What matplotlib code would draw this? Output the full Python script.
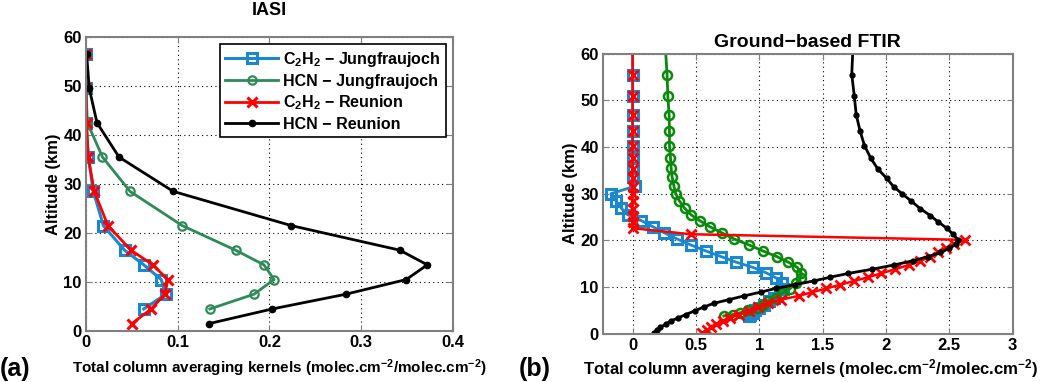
import numpy as np
import matplotlib.pyplot as plt

plt.rcParams['font.family'] = ['Liberation Sans', 'DejaVu Sans']
plt.rcParams['font.weight'] = 'bold'
plt.rcParams['mathtext.fontset'] = 'custom'
plt.rcParams['mathtext.rm'] = 'Liberation Sans:bold'
plt.rcParams['mathtext.bf'] = 'Liberation Sans:bold'
plt.rcParams['mathtext.default'] = 'bf'

# --- IASI (panel a) ---
iasi_alt = [1.5, 4.5, 7.5, 10.5, 13.5, 16.5, 21.5, 28.5, 35.5, 42.5, 49.5, 56.5]
iasi_c2h2_jfj = [np.nan, 0.063, 0.087, 0.082, 0.063, 0.042, 0.019, 0.008, 0.0025, 0.0, 0.0, 0.0]
iasi_hcn_jfj = [np.nan, 0.135, 0.183, 0.205, 0.194, 0.163, 0.105, 0.048, 0.018, 0.0015, 0.0, 0.0]
iasi_c2h2_reu = [0.050, 0.071, 0.086, 0.089, 0.073, 0.049, 0.024, 0.009, 0.0025, 0.0007, 0.0, 0.0]
iasi_hcn_reu = [0.134, 0.203, 0.283, 0.349, 0.372, 0.342, 0.224, 0.095, 0.036, 0.012, 0.0036, 0.0007]

# --- Ground-based FTIR (panel b) ---
jfj_alt = [3.8, 4.1, 4.5, 5.0, 5.5, 6.2, 6.9, 7.7, 8.7, 9.6, 10.8, 12.0, 13.1, 14.2,
           15.3, 16.5, 17.7, 19.0, 20.3, 21.6, 22.9, 24.2, 25.5, 26.9, 28.4, 30.0,
           31.6, 33.5, 35.5, 37.7, 40.3, 43.4, 46.8, 50.9, 55.4, 65.0]
ftir_hcn_jfj = [0.72, 0.79, 0.85, 0.91, 0.98, 1.03, 1.07, 1.13, 1.18, 1.24, 1.29, 1.33,
                1.33, 1.30, 1.23, 1.14, 1.03, 0.92, 0.80, 0.705, 0.61, 0.53, 0.46, 0.41,
                0.37, 0.34, 0.326, 0.312, 0.304, 0.299, 0.291, 0.291, 0.288, 0.278, 0.272, 0.25]
ftir_c2h2_jfj = [0.92, 0.93, 0.95, 0.97, 1.00, 1.04, 1.08, 1.12, 1.16, 1.19, 1.18, 1.13,
                 1.05, 0.95, 0.82, 0.70, 0.58, 0.46, 0.35, 0.25, 0.16, 0.07, -0.04, -0.09,
                 -0.13, -0.17, 0.02, 0.0, 0.0, 0.0, 0.0, 0.0, 0.0, 0.0, 0.0, 0.0]

reu_alt = [0.2, 0.8, 1.4, 2.0, 2.7, 3.4, 4.1, 4.9, 5.7, 6.5, 7.3, 8.1, 8.9, 9.7, 10.5,
           11.3, 12.1, 12.9, 13.8, 14.7, 15.6, 16.5, 17.4, 18.3, 19.2, 20.1, 21.3,
           22.6, 24.0, 25.3, 26.8, 28.4, 29.9, 31.5, 33.3, 35.3, 37.6, 40.3, 43.5,
           46.9, 50.9, 55.5, 65.0]
ftir_c2h2_reu = [0.55, 0.585, 0.62, 0.66, 0.71, 0.77, 0.84, 0.92, 0.99, 1.07, 1.17, 1.31,
                 1.42, 1.53, 1.64, 1.75, 1.86, 1.96, 2.07, 2.18, 2.27, 2.35, 2.41, 2.47,
                 2.54, 2.62, 0.46, 0.0, 0.0, 0.0, 0.0, 0.0, 0.0, 0.0, 0.0, 0.0, 0.0,
                 0.0, 0.0, 0.0, 0.0, 0.0, 0.0]
ftir_hcn_reu = [0.17, 0.19, 0.22, 0.26, 0.30, 0.36, 0.42, 0.49, 0.56, 0.64, 0.76, 0.88,
                1.01, 1.13, 1.28, 1.43, 1.56, 1.70, 1.89, 2.06, 2.21, 2.33, 2.43, 2.50,
                2.55, 2.57, 2.53, 2.48, 2.41, 2.35, 2.27, 2.20, 2.13, 2.06, 2.005, 1.935,
                1.88, 1.83, 1.795, 1.765, 1.75, 1.73, 1.745]

iasi_xticks = [0, 0.1, 0.2, 0.3, 0.4]
iasi_xticklabels = ['0', '0.1', '0.2', '0.3', '0.4']
ftir_xticks = [0, 0.5, 1, 1.5, 2, 2.5, 3]
ftir_xticklabels = ['0', '0.5', '1', '1.5', '2', '2.5', '3']
alt_ticks = [0, 10, 20, 30, 40, 50, 60]

BLUE = '#1b87cf'
GREEN_A = '#2e8b57'
GREEN_B = '#0a8a0a'
RED = '#ff0000'

XLABEL = 'Total column averaging kernels (molec.cm$^{-2}$/molec.cm$^{-2}$)'


def style_axes(ax, xticks, xlabels):
    ax.set_ylim(0, 60)
    ax.set_xticks(xticks)
    ax.set_xticklabels(xlabels, fontsize=12, fontweight='bold')
    ax.set_yticks(alt_ticks)
    ax.set_yticklabels([str(t) for t in alt_ticks], fontsize=12, fontweight='bold')
    ax.grid(True, linestyle=(0, (1, 3)), color='black', linewidth=0.8)
    for s in ax.spines.values():
        s.set_color('#808080')
        s.set_linewidth(1.5)
    ax.tick_params(length=4, color='#808080', direction='in', top=True, right=True, pad=3)
    ax.set_ylabel('Altitude (km)', fontsize=12, fontweight='bold', labelpad=2)


fig = plt.figure(figsize=(10.51, 3.82), dpi=100)

# panel (a)
ax1 = fig.add_axes([0.0818, 0.1335, 0.3492, 0.7696])
ax1.plot(iasi_c2h2_jfj, iasi_alt, '-s', color=BLUE, lw=2.2, ms=7, mfc='none', mew=2.2,
         label='C$_2$H$_2$ \u2212 Jungfraujoch')
ax1.plot(iasi_hcn_jfj, iasi_alt, '-o', color=GREEN_A, lw=2, ms=6, mfc='none', mew=1.6,
         label='HCN \u2212 Jungfraujoch')
ax1.plot(iasi_c2h2_reu, iasi_alt, '-x', color=RED, lw=2, ms=7, mew=2.2,
         label='C$_2$H$_2$ \u2212 Reunion')
ax1.plot(iasi_hcn_reu, iasi_alt, '-o', color='black', lw=2, ms=4.5,
         label='HCN \u2212 Reunion')
ax1.set_xlim(0, 0.4)
style_axes(ax1, iasi_xticks, iasi_xticklabels)
ax1.set_title('IASI', fontsize=13, fontweight='bold', pad=16)
leg = ax1.legend(loc='upper right', fontsize=11.5, fancybox=False, framealpha=1,
                 edgecolor='black', handlelength=3.3, borderaxespad=0.45,
                 labelspacing=0.3, handletextpad=0.3, borderpad=0.35)
leg.get_frame().set_linewidth(1.2)

# panel (b)
ax2 = fig.add_axes([0.5736, 0.1264, 0.3899, 0.7335])
ax2.plot(ftir_c2h2_jfj, jfj_alt, '-s', color=BLUE, lw=2, ms=6.5, mfc='none', mew=2.2)
ax2.plot(ftir_hcn_jfj, jfj_alt, '-o', color=GREEN_B, lw=2, ms=6.5, mfc='none', mew=1.8)
ax2.plot(ftir_c2h2_reu, reu_alt, '-x', color=RED, lw=1.8, ms=6.5, mew=2)
ax2.plot(ftir_hcn_reu, reu_alt, '-o', color='black', lw=2, ms=3.5)
ax2.set_xlim(-0.235, 3)
style_axes(ax2, ftir_xticks, ftir_xticklabels)
ax2.set_title('Ground\u2212based FTIR', fontsize=14, fontweight='bold', pad=5)

# panel labels and x labels
fig.text(0.0, 0.035, '(a)', fontsize=18, fontweight='bold', va='center')
fig.text(0.266, 0.035, XLABEL, fontsize=11, fontweight='bold', ha='center', va='center')
fig.text(0.494, 0.035, '(b)', fontsize=18, fontweight='bold', va='center')
fig.text(0.771, 0.035, XLABEL, fontsize=12.1, fontweight='bold', ha='center', va='center')

fig.savefig('out.png', dpi=100)
